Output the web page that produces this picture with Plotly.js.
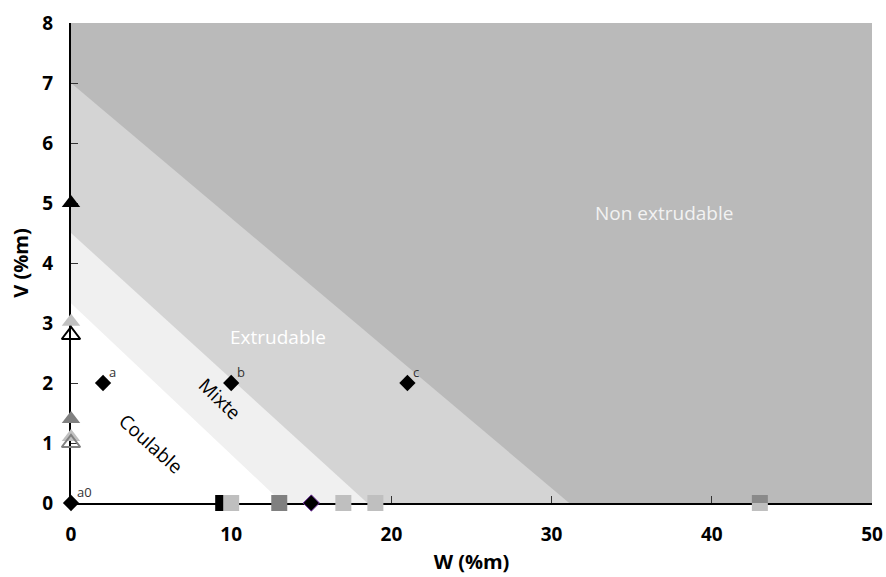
<!DOCTYPE html>
<html>
<head>
<meta charset="utf-8">
<script src="https://cdn.plot.ly/plotly-3.0.1.min.js"></script>
<style>html,body{margin:0;padding:0;background:#fff;}#chart{width:886px;height:577px;}</style>
</head>
<body>
<div id="chart"></div>
<script>
// Region boundaries: V-intercept and W-intercept of each straight boundary
var regionNames = ["Non extrudable", "Extrudable", "Mixte", "Coulable"];
var regionVIntercept = [8, 7, 4.5, 3.33];
var regionWIntercept = [50, 31.1, 18.5, 13.2];
var regionColors = ["#bababa", "#d4d4d4", "#f0f0f0", "#ffffff"];

// Labelled formulations (black diamonds)
var pointLabels = ["a0", "a", "b", "c"];
var pointW = [0, 2, 10, 21];
var pointV = [0, 2, 2, 2];

// Triangles on the V axis (W = 0)
var triFilledBlackV = [5];
var triFilledLightV = [3.02];
var triOpenBlackV = [2.8];
var triFilledGrayV = [1.4];
var triFilledLight2V = [1.1];
var triOpenGrayV = [1.0];

// Squares on the W axis (V = 0)
var sqBlackW = [9.5];
var sqLightW = [10, 17, 19, 43];
var sqGrayW = [13];
var sqGrayClippedW = [43];
var diamondPurpleW = [15];

var xTicks = [0, 10, 20, 30, 40, 50];
var yTicks = [0, 1, 2, 3, 4, 5, 6, 7, 8];

function zeros(a) { return a.map(function () { return 0; }); }

var shapes = [];
for (var i = 0; i < regionNames.length; i++) {
  var path;
  if (i === 0) {
    path = "M0,0 L0," + regionVIntercept[0] + " L" + regionWIntercept[0] + "," + regionVIntercept[0] + " L" + regionWIntercept[0] + ",0 Z";
  } else {
    path = "M0,0 L0," + regionVIntercept[i] + " L" + regionWIntercept[i] + ",0 Z";
  }
  shapes.push({type: "path", path: path, xref: "x", yref: "y", fillcolor: regionColors[i], line: {width: 0}, layer: "below"});
}

var traces = [];
function tri(y, symbol, color, lineColor) {
  return {x: zeros(y), y: y, type: "scatter", mode: "markers", cliponaxis: false, hoverinfo: "skip",
    marker: {symbol: symbol, size: 16, color: color, line: {color: lineColor, width: symbol.indexOf("open") >= 0 ? 2 : 0}}};
}
traces.push(tri(triFilledBlackV, "triangle-up", "#000000", "#000000"));
traces.push(tri(triFilledLightV, "triangle-up", "#c0c0c0", "#c0c0c0"));
traces.push(tri(triOpenBlackV, "triangle-up-open", "#000000", "#000000"));
traces.push(tri(triFilledGrayV, "triangle-up", "#808080", "#808080"));
traces.push(tri(triFilledLight2V, "triangle-up", "#c0c0c0", "#c0c0c0"));
traces.push(tri(triOpenGrayV, "triangle-up-open", "#808080", "#808080"));

function sq(x, color, clip) {
  return {x: x, y: zeros(x), type: "scatter", mode: "markers", cliponaxis: clip, hoverinfo: "skip",
    marker: {symbol: "square", size: 16, color: color, line: {width: 0}}};
}
traces.push(sq(sqBlackW, "#000000", false));
traces.push(sq(sqLightW, "#bfbfbf", false));
traces.push(sq(sqGrayW, "#808080", false));
traces.push(sq(sqGrayClippedW, "#8a8a8a", true));
traces.push({x: diamondPurpleW, y: zeros(diamondPurpleW), type: "scatter", mode: "markers", cliponaxis: false, hoverinfo: "skip",
  marker: {symbol: "diamond", size: 12.5, color: "#000000", line: {color: "#7030a0", width: 1}}});
traces.push({x: pointW, y: pointV, type: "scatter", mode: "markers", cliponaxis: false, hoverinfo: "skip",
  marker: {symbol: "diamond", size: 12.5, color: "#000000"}});

var annotations = [];
for (var j = 0; j < pointLabels.length; j++) {
  annotations.push({x: pointW[j], y: pointV[j], text: pointLabels[j], showarrow: false, xanchor: "left", yanchor: "bottom",
    xshift: 4, yshift: 0, font: {family: "Open Sans, sans-serif", size: 13, color: "#333333"}});
}
var regionLabelW = [37.0, 12.9, 9.3, 5.0];
var regionLabelV = [4.83, 2.77, 1.73, 0.98];
var regionLabelAngle = [0, 0, 44, 42];
var regionLabelColor = ["#f2f2f2", "#ffffff", "#000000", "#000000"];
var regionLabelSize = [19, 19, 19, 19];
for (var k = 0; k < regionNames.length; k++) {
  annotations.push({x: regionLabelW[k], y: regionLabelV[k], text: regionNames[k], showarrow: false, textangle: regionLabelAngle[k],
    font: {family: "Open Sans, sans-serif", size: regionLabelSize[k], color: regionLabelColor[k]}});
}

var layout = {
  width: 886, height: 577,
  margin: {l: 71, r: 14, t: 23, b: 74},
  paper_bgcolor: "#ffffff", plot_bgcolor: "#ffffff",
  showlegend: false,
  shapes: shapes,
  annotations: annotations,
  xaxis: {
    range: [0, 50], tickvals: xTicks, ticktext: xTicks.map(String),
    showgrid: false, zeroline: false, showline: true, linecolor: "#000000", linewidth: 2,
    ticks: "inside", ticklen: 7, tickwidth: 1, tickcolor: "#333333", layer: "below traces",
    ticklabelstandoff: 13,
    tickfont: {family: "Open Sans, sans-serif", size: 19, color: "#000000", weight: "bold"},
    title: {text: "<b>W (%m)</b>", font: {family: "Open Sans, sans-serif", size: 20, color: "#000000"}, standoff: 9}
  },
  yaxis: {
    range: [0, 8], tickvals: yTicks, ticktext: yTicks.map(String),
    showgrid: false, zeroline: false, showline: true, linecolor: "#000000", linewidth: 2,
    ticks: "inside", ticklen: 7, tickwidth: 1, tickcolor: "#333333", layer: "below traces",
    ticklabelstandoff: 12,
    tickfont: {family: "Open Sans, sans-serif", size: 19, color: "#000000", weight: "bold"},
    title: {text: "<b>V (%m)</b>", font: {family: "Open Sans, sans-serif", size: 20, color: "#000000"}, standoff: 8}
  }
};

Plotly.newPlot("chart", traces, layout, {staticPlot: true, displayModeBar: false});
</script>
</body>
</html>
